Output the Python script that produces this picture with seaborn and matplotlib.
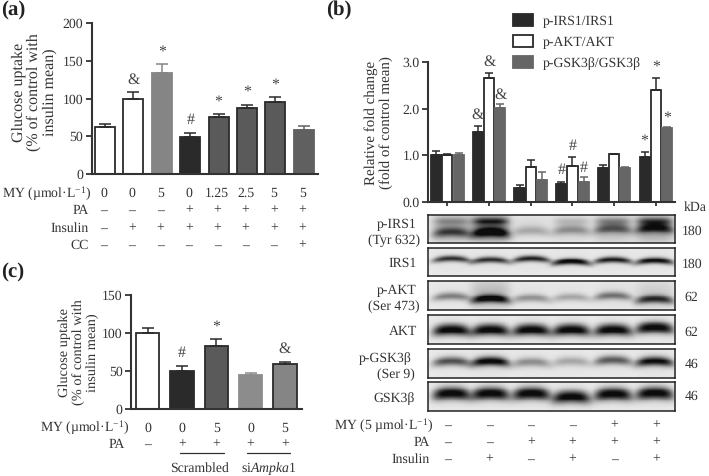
import numpy as np
import pandas as pd
import matplotlib
matplotlib.use('Agg')
import matplotlib.pyplot as plt
from matplotlib.lines import Line2D
import seaborn as sns

# ---- panel a values
a_lanes = ['a1', 'a2', 'a3', 'a4', 'a5', 'a6', 'a7', 'a8']
a_values = [62, 100, 133, 49, 75, 87, 95, 59]
a_err_top = [66, 108, 145, 55, 79, 92, 102, 64]
a_marks = ['', '&', '*', '#', '*', '*', '*', '']
a_my = ['0', '0', '5', '0', '1.25', '2.5', '5', '5']
a_pa = ['–', '–', '–', '+', '+', '+', '+', '+']
a_insulin = ['–', '+', '+', '+', '+', '+', '+', '+']
a_cc = ['–', '–', '–', '–', '–', '–', '–', '+']
a_colors = ['#ffffff', '#ffffff', '#858585', '#2a2a2a', '#5a5a5a', '#5a5a5a', '#5a5a5a', '#606060']
a_edges = ['#2b2b2b', '#2b2b2b', '#858585', '#2a2a2a', '#2b2b2b', '#2b2b2b', '#2b2b2b', '#606060']

# ---- panel b values
b_groups = ['g1', 'g2', 'g3', 'g4', 'g5', 'g6']
b_series = ['p-IRS1/IRS1', 'p-AKT/AKT', 'p-GSK3β/GSK3β']
b_irs = [1.00, 1.51, 0.31, 0.39, 0.73, 0.96]
b_irs_top = [1.09, 1.63, 0.37, 0.44, 0.79, 1.07]
b_akt = [1.00, 2.66, 0.76, 0.78, 1.03, 2.41]
b_akt_top = [1.03, 2.76, 0.91, 0.96, 1.04, 2.66]
b_gsk = [1.00, 2.01, 0.47, 0.44, 0.73, 1.58]
b_gsk_top = [1.06, 2.11, 0.64, 0.53, 0.76, 1.62]
b_irs_marks = ['', '&', '', '#', '', '*']
b_akt_marks = ['', '&', '', '#', '', '*']
b_gsk_marks = ['', '&', '', '#', '', '*']
b_colors = ['#2a2a2a', '#ffffff', '#666666']
b_edges = ['#2a2a2a', '#2a2a2a', '#666666']
b_my = ['–', '–', '–', '–', '+', '+']
b_pa = ['–', '–', '+', '+', '+', '+']
b_insulin = ['–', '+', '–', '+', '–', '+']

# ---- panel c values
c_lanes = ['c1', 'c2', 'c3', 'c4', 'c5']
c_values = [100, 51, 83, 45, 60]
c_err_top = [107.5, 57.5, 92.5, 48, 62.5]
c_marks = ['', '#', '*', '', '&']
c_my = ['0', '0', '5', '0', '5']
c_pa = ['–', '+', '+', '+', '+']
c_colors = ['#ffffff', '#2a2a2a', '#5a5a5a', '#8c8c8c', '#858585']
c_edges = ['#2b2b2b', '#2a2a2a', '#2b2b2b', '#8c8c8c', '#2b2b2b']

# ---- blots: darkness of each lane, band height in the strip
blot_names = ['p-IRS1', 'IRS1', 'p-AKT', 'AKT', 'p-GSK3b', 'GSK3b']
blot_dark = [[.5, .8, .22, .28, .42, .6],
             [.72, .72, .78, .9, .8, .85],
             [.4, .85, .32, .24, .44, .68],
             [.9, .9, .9, .9, .9, .9],
             [.58, .9, .34, .24, .55, .85],
             [.9, .9, .9, .9, .9, .9]]
blot_y = [[.6, .6, .55, .52, .47, .45],
          [.38, .42, .38, .48, .42, .45],
          [.52, .6, .58, .55, .5, .62],
          [.5, .5, .5, .5, .5, .42],
          [.42, .42, .45, .42, .38, .42],
          [.38, .38, .38, .5, .4, .37]]
blot_h = [.17, .11, .14, .2, .16, .22]
blot_upper = [[.2, .5, .02, .12, .25, .45],
              [0, 0, 0, 0, 0, 0],
              [0, 0, 0, 0, 0, 0],
              [0, 0, 0, 0, 0, 0],
              [0, 0, 0, 0, 0, 0],
              [0, 0, 0, 0, 0, 0]]
blot_smear = [[.25, .4, .05, .1, .2, .3],
              [.03, .03, .03, .03, .03, .03],
              [.03, .2, .03, .03, .05, .12],
              [.03, .03, .03, .03, .03, .03],
              [.03, .05, .03, .03, .03, .05],
              [.03, .03, .03, .03, .03, .03]]
blot_lane_x = [.095, .253, .419, .581, .75, .919]

W, H = 709.0, 476.0
INK = '#333333'
FS = 9.9
TEXT_SHIFT = 1.5  # text centre sits a little above the glyphs

sns.set_style('ticks')
plt.rcParams['font.family'] = ['Liberation Serif', 'DejaVu Serif']
plt.rcParams['mathtext.fontset'] = 'custom'
plt.rcParams['mathtext.rm'] = 'Liberation Serif'
plt.rcParams['mathtext.it'] = 'Liberation Serif:italic'
plt.rcParams['mathtext.default'] = 'rm'
plt.rcParams['text.color'] = INK
plt.rcParams['text.hinting'] = 'none'

fig = plt.figure(figsize=(W / 100, H / 100), dpi=100, facecolor='white')


def px_axes(left, right, top, bottom):
    return fig.add_axes([left / W, 1 - bottom / H, (right - left) / W, (bottom - top) / H])


def ftext(x, y, s, ha='center', size=FS, **kw):
    fig.text(x / W, 1 - (y + TEXT_SHIFT) / H, s, ha=ha, va='center', size=size, **kw)


def style_axis(ax, xlim, ylim, yticks):
    ax.set_xlim(*xlim)
    ax.set_ylim(*ylim)
    ax.set_yticks(yticks)
    ax.set_xlabel('')
    ax.set_ylabel('')
    ax.set_facecolor('none')
    sns.despine(ax=ax)
    for side in ['left', 'bottom']:
        ax.spines[side].set_linewidth(1.5)
        ax.spines[side].set_color(INK)
        ax.spines[side].set_zorder(5)
    ax.tick_params(axis='y', length=4.5, width=1.3, color=INK, labelsize=FS, labelcolor=INK, pad=1.5)
    ax.tick_params(axis='x', length=0, labelbottom=False)


def finish_bars(ax, bars, edges, tops, marks, cap, lw, offset):
    for bar, edge, top, mark in zip(bars, edges, tops, marks):
        bar.set_edgecolor(edge)
        bar.set_linewidth(lw)
        xc = bar.get_x() + bar.get_width() / 2
        val = bar.get_height()
        ax.errorbar(xc, val, yerr=[[0], [top - val]], color=edge, capsize=cap, capthick=1.1,
                    elinewidth=1.1, zorder=1)
        if mark:
            ax.annotate(mark, (xc, top), xytext=(0, offset), textcoords='offset points',
                        ha='center', va='center', size=FS + 1.5, color='#444444')


def row(ax, y0_px, h_px, y_px, xs, labels):
    # row of text under an axis: x follows the bar positions
    for x, lab in zip(xs, labels):
        ax.text(x, (y0_px - y_px - TEXT_SHIFT) / h_px, lab, transform=ax.get_xaxis_transform(),
                ha='center', va='center', size=FS, clip_on=False)


# ---- (a)
ax_a = px_axes(91.5, 318, 22.7, 174.3)
sns.barplot(x=a_lanes, y=a_values, hue=a_lanes, palette=dict(zip(a_lanes, a_colors)), width=.7,
            dodge=False, legend=False, ax=ax_a, saturation=1)
style_axis(ax_a, (-.475, 7.5), (0, 200), [0, 50, 100, 150, 200])
finish_bars(ax_a, ax_a.patches, a_edges, a_err_top, a_marks, 4, 1.3, 9)
xs = np.arange(len(a_lanes)) - .05
for y_px, labs in zip([192, 209, 227, 244], [a_my, a_pa, a_insulin, a_cc]):
    row(ax_a, 174.3, 151.6, y_px, xs, labs)
ftext(91.5, 192, 'MY (µmol·L$^{-1}$)', ha='right')
ftext(89, 209, 'PA', ha='right')
ftext(89, 227, 'Insulin', ha='right')
ftext(89, 244, 'CC', ha='right')
ftext(34, 91, 'Glucose uptake\n(% of control with\ninsulin mean)', rotation=90, size=11.5,
      linespacing=1.08, multialignment='center')
ftext(13, 9, '(a)', size=15, weight='bold', color='#222222')

# ---- (b)
ax_b = px_axes(428, 675, 62.3, 202)
b_df = pd.DataFrame({'group': b_groups * 3,
                     'series': np.repeat(b_series, len(b_groups)),
                     'value': b_irs + b_akt + b_gsk})
sns.barplot(data=b_df, x='group', y='value', hue='series', hue_order=b_series, palette=b_colors,
            width=.81, gap=.1, legend=False, ax=ax_b, saturation=1)
style_axis(ax_b, (-.465, 5.46), (0, 3), [0, 1, 2, 3])
ax_b.set_yticklabels(['0.0', '1.0', '2.0', '3.0'])
ax_b.tick_params(axis='x', length=3.2, width=1.3, color=INK)
b_tops = [b_irs_top, b_akt_top, b_gsk_top]
b_marks = [b_irs_marks, b_akt_marks, b_gsk_marks]
for cont, edge, tops, marks, off in zip(ax_b.containers, b_edges, b_tops, b_marks, [8, 8, 6.5]):
    finish_bars(ax_b, cont, [edge] * len(tops), tops, marks, 2.6, 1.3, off)
fig.legend(ax_b.containers, b_series, loc='upper left', bbox_to_anchor=(513 / W, 1 - 14 / H),
           frameon=False, fontsize=FS, handlelength=1.45, handleheight=1.0, handletextpad=.73,
           labelspacing=.52, borderpad=0, borderaxespad=0)
ftext(379, 121, 'Relative fold change\n(fold of control mean)', rotation=90, size=10.8,
      linespacing=1.12, multialignment='center')
ftext(339, 9, '(b)', size=15, weight='bold', color='#222222')
ftext(695, 206, 'kDa')

# blot strips, one heatmap per protein
blot_tops = [215, 247.7, 281, 315.3, 349, 382.3]
blot_bottoms = [243.3, 276, 310, 344, 377.7, 411]
blot_kda = ['180', '180', '62', '62', '46', '46']
blot_kda_y = [229.7, 263, 296, 331, 362.7, 395]
yy, xx = np.mgrid[0:1:60j, 0:1:500j]
for i, name in enumerate(blot_names):
    img = np.full(xx.shape, .92)
    for lane, lane_x in enumerate(blot_lane_x):
        arch = 14 * (xx - lane_x) ** 2
        band = np.exp(-((xx - lane_x) / .075) ** 4) * np.exp(-((yy - blot_y[i][lane] - arch) / blot_h[i]) ** 2)
        upper = np.exp(-((xx - lane_x) / .07) ** 4) * np.exp(-((yy - .22) / .13) ** 2)
        haze = np.exp(-((xx - lane_x) / .08) ** 4) * np.exp(-((yy - .45) / .55) ** 2)
        img = img - blot_dark[i][lane] * band - blot_upper[i][lane] * upper - blot_smear[i][lane] * haze
    ax_blot = px_axes(428, 675, blot_tops[i], blot_bottoms[i])
    sns.heatmap(np.clip(img, .05, 1), cmap='gray', vmin=0, vmax=1, cbar=False,
                xticklabels=False, yticklabels=False, ax=ax_blot)
    for spine in ax_blot.spines.values():
        spine.set_visible(True)
        spine.set_linewidth(1.1)
        spine.set_color('#222222')
    ftext(691.7, blot_kda_y[i], blot_kda[i])

ftext(397, 223, 'p-IRS1')
ftext(420, 239, '(Tyr 632)', ha='right')
ftext(417, 262, 'IRS1', ha='right')
ftext(397, 289, 'p-AKT')
ftext(420, 305, '(Ser 473)', ha='right')
ftext(417, 330, 'AKT', ha='right')
ftext(412, 357, 'p-GSK3β', ha='right')
ftext(415, 373, '(Ser 9)', ha='right')
ftext(415, 397, 'GSK3β', ha='right')
xs = range(len(b_groups))
for y_px, labs in zip([424, 441, 458], [b_my, b_pa, b_insulin]):
    row(ax_b, 202, 139.7, y_px, xs, labs)
ftext(433, 424, 'MY (5 µmol·L$^{-1}$)', ha='right')
ftext(430, 441, 'PA', ha='right')
ftext(430, 458, 'Insulin', ha='right')

# ---- (c)
ax_c = px_axes(131, 302, 295.3, 409.3)
sns.barplot(x=c_lanes, y=c_values, hue=c_lanes, palette=dict(zip(c_lanes, c_colors)), width=.68,
            dodge=False, legend=False, ax=ax_c, saturation=1)
style_axis(ax_c, (-.488, 4.5), (0, 150), [0, 50, 100, 150])
finish_bars(ax_c, ax_c.patches, c_edges, c_err_top, c_marks, 4.5, 1.3, 9)
xs = range(len(c_lanes))
for y_px, labs in zip([426.7, 443], [c_my, c_pa]):
    row(ax_c, 409.3, 114, y_px, xs, labs)
ftext(129, 426.7, 'MY (µmol·L$^{-1}$)', ha='right')
ftext(125, 443, 'PA', ha='right')
fig.add_artist(Line2D([180 / W, 224 / W], [1 - 453 / H] * 2, color=INK, lw=.9))
fig.add_artist(Line2D([246.7 / W, 290 / W], [1 - 453 / H] * 2, color=INK, lw=.9))
ftext(199, 466.7, 'Scrambled')
ftext(269, 466.7, 'si$\\mathit{Ampka1}$')
ftext(79, 351, 'Glucose uptake\n(% of control with\ninsulin mean)', rotation=90, size=10.4,
      linespacing=1.12, multialignment='center')
ftext(13, 271, '(c)', size=15, weight='bold', color='#222222')

fig.savefig('out.png', dpi=100)
